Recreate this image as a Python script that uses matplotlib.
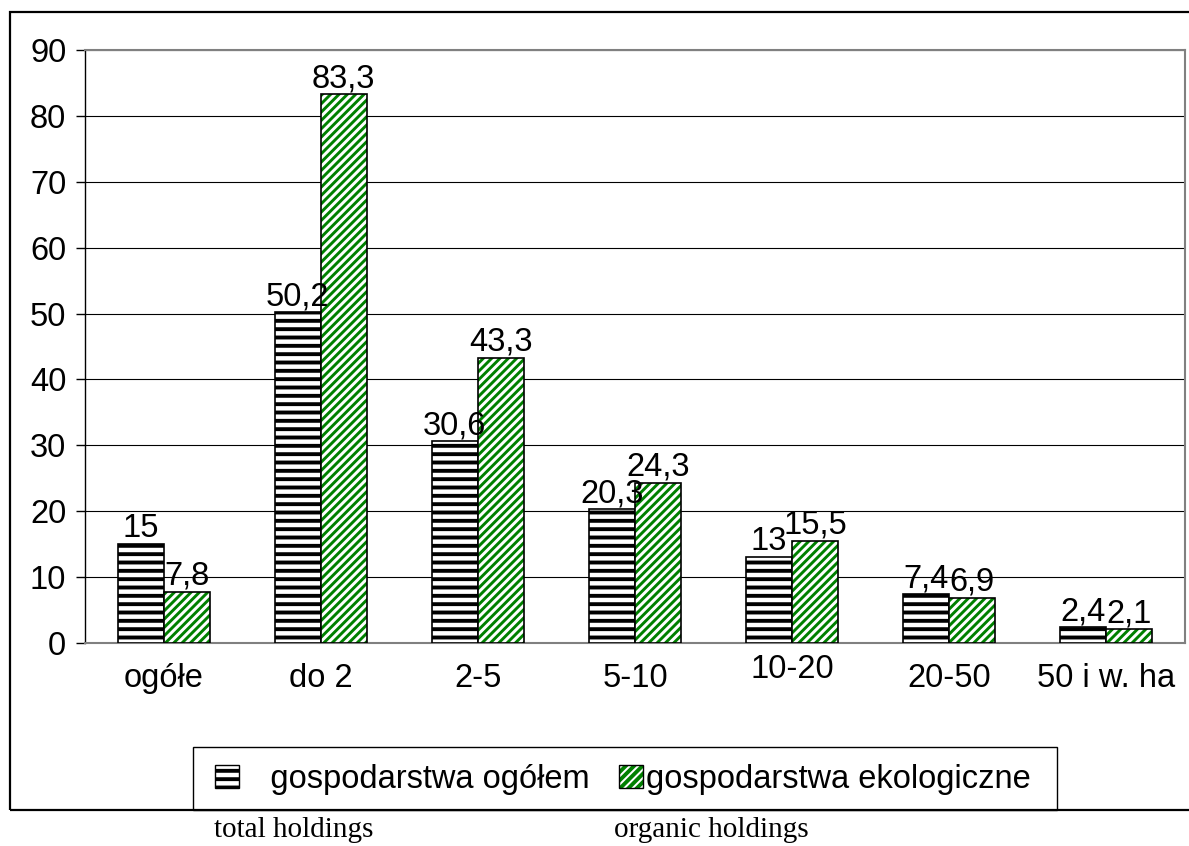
import numpy as np
import matplotlib.pyplot as plt
from matplotlib.patches import Rectangle, Patch
from matplotlib.transforms import ScaledTranslation, blended_transform_factory

categories = ["ogółe", "do 2", "2-5", "5-10", "10-20", "20-50", "50 i w. ha"]
total_holdings = [15, 50.2, 30.6, 20.3, 13, 7.4, 2.4]
organic_holdings = [7.8, 83.3, 43.3, 24.3, 15.5, 6.9, 2.1]
series_names = ["   gospodarstwa ogółem", "gospodarstwa ekologiczne"]
yticks = list(range(0, 100, 10))

plt.rcParams['font.family'] = ['Liberation Sans', 'DejaVu Sans']
plt.rcParams['hatch.linewidth'] = 2.8

W, H = 1189, 846
FS = 23.5
fig = plt.figure(figsize=(W / 100, H / 100), dpi=100)
ax = fig.add_axes([85 / W, 1 - 643 / H, 1100 / W, 593 / H])

x = np.arange(len(categories))
bw = 0.293
green = '#008000'


def thin_hatch(patch, lw=2.1):
    # per-artist hatch width when the matplotlib version has it
    if hasattr(patch, 'set_hatch_linewidth'):
        patch.set_hatch_linewidth(lw)


# black horizontal stripes
ax.bar(x - bw / 2, total_holdings, bw, color='white', edgecolor='black',
       hatch='--', linewidth=1.2, zorder=3)
# green diagonal stripes, then a black outline on top
gbars = ax.bar(x + bw / 2, organic_holdings, bw, color='white', edgecolor=green,
               hatch='////', linewidth=0, zorder=3)
for p in gbars:
    thin_hatch(p)
ax.bar(x + bw / 2, organic_holdings, bw, fill=False, edgecolor='black',
       linewidth=1.2, zorder=4)


def fmt(v):
    return f"{v:g}".replace('.', ',')


for xi, v in zip(x - bw / 2, total_holdings):
    ax.annotate(fmt(v), (xi, v), xytext=(0, 0), textcoords='offset points',
                ha='center', va='bottom', fontsize=FS, zorder=5)
for xi, v in zip(x + bw / 2, organic_holdings):
    ax.annotate(fmt(v), (xi, v), xytext=(0, 0), textcoords='offset points',
                ha='center', va='bottom', fontsize=FS, zorder=5)

ax.set_xlim(-0.5, len(categories) - 0.5)
ax.set_ylim(0, 90)
ax.set_yticks(yticks)
ax.set_xticks([])
ax.yaxis.grid(True, color='black', linewidth=0.8)
ax.set_axisbelow(True)
ax.tick_params(axis='y', length=6.5, width=1, pad=7, labelsize=FS, color='black')

for side in ['top', 'right', 'bottom']:
    ax.spines[side].set_color('#808080')
    ax.spines[side].set_linewidth(1.5)
ax.spines['left'].set_color('black')
ax.spines['left'].set_linewidth(1)

# category labels (10-20 sits a bit higher in the original)
trans = blended_transform_factory(ax.transData, ax.transAxes)
for i, c in enumerate(categories):
    dy = 0.09 if c == "10-20" else 0.0
    t = trans + ScaledTranslation(0, -0.2 + dy, fig.dpi_scale_trans)
    ax.text(i, 0, c, transform=t, ha='center', va='top', fontsize=FS, clip_on=False)

h1 = Patch(facecolor='white', edgecolor='black', hatch='--', linewidth=1)
hg = Patch(facecolor='white', edgecolor=green, hatch='////', linewidth=0)
thin_hatch(hg)
h2 = (hg, Patch(fill=False, edgecolor='black', linewidth=1))
leg = fig.legend([h1, h2], series_names, loc='center left',
                 bbox_to_anchor=(215 / W, 1 - 779 / H), ncol=2, frameon=False,
                 fontsize=FS, handlelength=0.75, handleheight=0.7,
                 handletextpad=0.1, columnspacing=0.9, borderpad=0,
                 borderaxespad=0)

# legend frame
fig.add_artist(Rectangle((193 / W, 1 - 810 / H), (1057 - 193) / W, 63 / H,
                         transform=fig.transFigure, fill=False,
                         edgecolor='black', linewidth=1.0))

fig.text(294 / W, 1 - 830 / H, "total holdings", ha='center', va='center',
         family='Liberation Serif', fontsize=21)
fig.text(711 / W, 1 - 830 / H, "organic holdings", ha='center', va='center',
         family='Liberation Serif', fontsize=21)

fig.add_artist(Rectangle((10 / W, 1 - 810 / H), 1.1, (810 - 12) / H,
                         transform=fig.transFigure, fill=False,
                         edgecolor='black', linewidth=1.6))

fig.savefig('out.png', dpi=100)
